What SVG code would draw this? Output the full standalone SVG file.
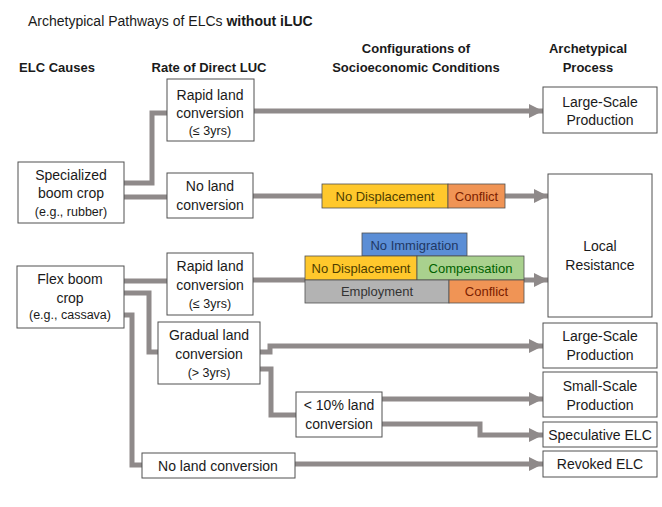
<svg xmlns="http://www.w3.org/2000/svg" width="662" height="507" viewBox="0 0 662 507">
<defs>
<style>
text{font-family:"Liberation Sans",Arial,sans-serif;fill:#1a1a1a}
.t{font-size:14px;text-anchor:middle}
.s{font-size:12.5px;text-anchor:middle}
.h{font-size:13px;font-weight:bold;text-anchor:middle}
.b{fill:#fff;stroke:#505050;stroke-width:1}
.c{fill:none;stroke:#8f8a8a;stroke-width:5;stroke-linejoin:miter}
.bar{stroke:#505050;stroke-width:0.8}
.bt{font-size:13px;text-anchor:middle}
</style>
<marker id="ar" viewBox="0 0 10 10" refX="10" refY="5" markerWidth="3" markerHeight="2.8" orient="auto" markerUnits="strokeWidth">
<path d="M0,0 L10,5 L0,10 z" fill="#8f8a8a"/>
</marker>
</defs>
<rect width="662" height="507" fill="#fff"/>
<text x="28" y="26" font-size="14">Archetypical Pathways of ELCs <tspan font-weight="bold">without iLUC</tspan></text>
<g id="headers">
<text class="h" x="57" y="72">ELC Causes</text>
<text class="h" x="209" y="72">Rate of Direct LUC</text>
<text class="h" x="416" y="53">Configurations of</text>
<text class="h" x="416" y="72">Socioeconomic Conditions</text>
<text class="h" x="588" y="53">Archetypical</text>
<text class="h" x="588" y="72">Process</text>
</g>
<g id="connectors">
<path class="c" d="M124,183 H152 V113 H167"/>
<path class="c" d="M124,197 H167"/>
<path class="c" d="M254,111 H543" marker-end="url(#ar)"/>
<path class="c" d="M253,196 H322"/>
<path class="c" d="M505,196 H548" marker-end="url(#ar)"/>
<path class="c" d="M124,281 H167"/>
<path class="c" d="M253,280 H305"/>
<path class="c" d="M524,280 H548" marker-end="url(#ar)"/>
<path class="c" d="M124,293 H149 V352 H158"/>
<path class="c" d="M124,315 H132 V465 H142"/>
<path class="c" d="M295,464 H543" marker-end="url(#ar)"/>
<path class="c" d="M260,352 H270 V346 H543" marker-end="url(#ar)"/>
<path class="c" d="M260,369 H271 V415 H296"/>
<path class="c" d="M382,399 H543" marker-end="url(#ar)"/>
<path class="c" d="M382,424 H480 V435 H543" marker-end="url(#ar)"/>
</g>
<g id="specialized">
<rect class="b" x="18" y="162" width="106" height="61"/>
<text class="t" x="71" y="180">Specialized</text>
<text class="t" x="71" y="198">boom crop</text>
<text class="s" x="71" y="216">(e.g., rubber)</text>
</g>
<g id="flex">
<rect class="b" x="17" y="266" width="107" height="62"/>
<text class="t" x="70" y="284">Flex boom</text>
<text class="t" x="70" y="303">crop</text>
<text class="s" x="70" y="319">(e.g., cassava)</text>
</g>
<g id="rapid1">
<rect class="b" x="167" y="79" width="87" height="62"/>
<text class="t" x="210" y="100">Rapid land</text>
<text class="t" x="210" y="118">conversion</text>
<text class="s" x="210" y="135">(≤ 3yrs)</text>
</g>
<g id="noland1">
<rect class="b" x="167" y="173" width="86" height="45"/>
<text class="t" x="210" y="191">No land</text>
<text class="t" x="210" y="210">conversion</text>
</g>
<g id="rapid2">
<rect class="b" x="167" y="253" width="86" height="62"/>
<text class="t" x="210" y="271">Rapid land</text>
<text class="t" x="210" y="290">conversion</text>
<text class="s" x="210" y="308">(≤ 3yrs)</text>
</g>
<g id="gradual">
<rect class="b" x="158" y="322" width="102" height="62"/>
<text class="t" x="209" y="340">Gradual land</text>
<text class="t" x="209" y="359">conversion</text>
<text class="s" x="209" y="377">(&gt; 3yrs)</text>
</g>
<g id="lt10">
<rect class="b" x="296" y="392" width="86" height="45"/>
<text class="t" x="339" y="410">&lt; 10% land</text>
<text class="t" x="339" y="429">conversion</text>
</g>
<g id="noland2">
<rect class="b" x="142" y="453" width="153" height="25"/>
<text class="t" x="218" y="471">No land conversion</text>
</g>
<g id="conf1">
<rect class="bar" x="322" y="184" width="126" height="24" fill="#ffc82c"/>
<rect class="bar" x="448" y="184" width="57" height="24" fill="#f09455"/>
<text class="bt" x="385" y="200.5" style="fill:#4d3d00">No Displacement</text>
<text class="bt" x="476.5" y="200.5" style="fill:#7a2000">Conflict</text>
</g>
<g id="conf2">
<rect class="bar" x="362" y="233" width="105" height="23" fill="#5b8ed6"/>
<rect class="bar" x="305" y="256" width="112" height="24" fill="#ffc82c"/>
<rect class="bar" x="417" y="256" width="107" height="24" fill="#a9d18e"/>
<rect class="bar" x="305" y="280" width="144" height="23" fill="#b3b3b3"/>
<rect class="bar" x="449" y="280" width="75" height="23" fill="#f09455"/>
<text class="bt" x="414.5" y="249.5" style="fill:#1f3864">No Immigration</text>
<text class="bt" x="361" y="272.5" style="fill:#4d3d00">No Displacement</text>
<text class="bt" x="470.5" y="272.5" style="fill:#006100">Compensation</text>
<text class="bt" x="377" y="296" style="fill:#333">Employment</text>
<text class="bt" x="486.5" y="296" style="fill:#7a2000">Conflict</text>
</g>
<g id="large1">
<rect class="b" x="543" y="87" width="114" height="46"/>
<text class="t" x="600" y="107">Large-Scale</text>
<text class="t" x="600" y="125">Production</text>
</g>
<g id="resistance">
<rect class="b" x="548" y="174" width="104" height="143"/>
<text class="t" x="600" y="251">Local</text>
<text class="t" x="600" y="270">Resistance</text>
</g>
<g id="large2">
<rect class="b" x="543" y="323" width="114" height="45"/>
<text class="t" x="600" y="341">Large-Scale</text>
<text class="t" x="600" y="360">Production</text>
</g>
<g id="small">
<rect class="b" x="543" y="372" width="114" height="45"/>
<text class="t" x="600" y="391">Small-Scale</text>
<text class="t" x="600" y="410">Production</text>
</g>
<g id="speculative">
<rect class="b" x="543" y="422" width="114" height="25"/>
<text class="t" x="600" y="440">Speculative ELC</text>
</g>
<g id="revoked">
<rect class="b" x="543" y="451" width="114" height="26"/>
<text class="t" x="600" y="469">Revoked ELC</text>
</g>
</svg>
